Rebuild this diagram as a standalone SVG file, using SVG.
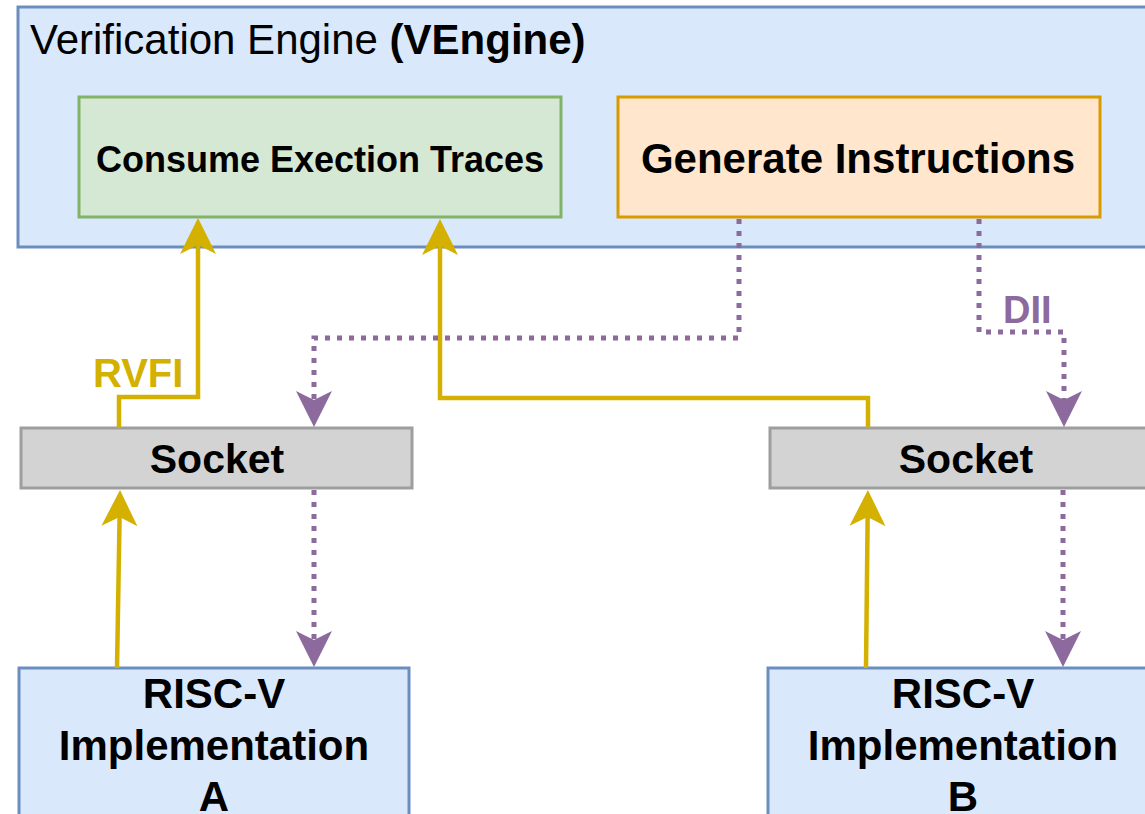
<svg xmlns="http://www.w3.org/2000/svg" width="1145" height="814" viewBox="0 0 1145 814">
<style>
text{font-family:"Liberation Sans",Arial,sans-serif;fill:#000}
.b{font-weight:bold}
.blue{fill:#dae8fc;stroke:#6c8ebf;stroke-width:3}
.green{fill:#d5e8d4;stroke:#82b366;stroke-width:3}
.orange{fill:#ffe6cc;stroke:#d79b00;stroke-width:3}
.gray{fill:#d3d3d3;stroke:#9e9e9e;stroke-width:3}
.y{fill:none;stroke:#d4b000;stroke-width:4.5}
.p{fill:none;stroke:#8c6a9e;stroke-width:5;stroke-dasharray:5 7}
</style>
<defs>
<marker id="ay" viewBox="-37 -19 38 38" refX="-20" refY="0" markerWidth="38" markerHeight="38" markerUnits="userSpaceOnUse" orient="auto">
<path d="M0,0 L-36,-18 L-27,0 L-36,18 Z" fill="#d4b000"/>
</marker>
<marker id="ap" viewBox="-37 -19 38 38" refX="-20" refY="0" markerWidth="38" markerHeight="38" markerUnits="userSpaceOnUse" orient="auto">
<path d="M0,0 L-36,-18 L-27,0 L-36,18 Z" fill="#8c6a9e"/>
</marker>
</defs>
<g id="vengine">
<rect class="blue" x="18" y="7" width="1140" height="240"/>
<text x="30" y="54" font-size="42">Verification Engine <tspan class="b">(VEngine)</tspan></text>
</g>
<g id="consume">
<rect class="green" x="79" y="97" width="482" height="120"/>
<text class="b" x="320" y="172" font-size="36" text-anchor="middle">Consume Exection Traces</text>
</g>
<g id="generate">
<rect class="orange" x="618" y="97" width="482" height="120"/>
<text class="b" x="858" y="173" font-size="42" text-anchor="middle">Generate Instructions</text>
</g>
<g id="socketA">
<rect class="gray" x="21" y="428" width="391" height="60"/>
<text class="b" x="217" y="473" font-size="41" text-anchor="middle">Socket</text>
</g>
<g id="socketB">
<rect class="gray" x="770" y="428" width="400" height="60"/>
<text class="b" x="966" y="473" font-size="41" text-anchor="middle">Socket</text>
</g>
<g id="riscvA">
<rect class="blue" x="19" y="668" width="390" height="160"/>
<text class="b" x="214" font-size="42" text-anchor="middle"><tspan x="214" y="708">RISC-V</tspan><tspan x="214" y="760">Implementation</tspan><tspan x="214" y="811">A</tspan></text>
</g>
<g id="riscvB">
<rect class="blue" x="768" y="668" width="400" height="160"/>
<text class="b" x="963" font-size="42" text-anchor="middle"><tspan x="963" y="708">RISC-V</tspan><tspan x="963" y="760">Implementation</tspan><tspan x="963" y="811">B</tspan></text>
</g>
<g id="connectors">
<path class="y" d="M117,668 L119.7,510" marker-end="url(#ay)"/>
<path class="y" d="M119,428 L119,397 L198,397 L198,238" marker-end="url(#ay)"/>
<path class="y" d="M868,428 L868,398 L440,398 L440,239" marker-end="url(#ay)"/>
<path class="y" d="M866,668 L867.7,510" marker-end="url(#ay)"/>
<path class="p" d="M739,219 L739,338 L314,338 L314,407" marker-end="url(#ap)"/>
<path class="p" d="M979,219 L979,332 L1064,332 L1064,407" marker-end="url(#ap)"/>
<path class="p" d="M314,490 L314,647" marker-end="url(#ap)"/>
<path class="p" d="M1063,490 L1063,647" marker-end="url(#ap)"/>
<text class="b" x="93" y="387" font-size="40" style="fill:#d4b000">RVFI</text>
<text class="b" x="1003" y="323" font-size="38" style="fill:#8c6a9e">DII</text>
</g>
</svg>
